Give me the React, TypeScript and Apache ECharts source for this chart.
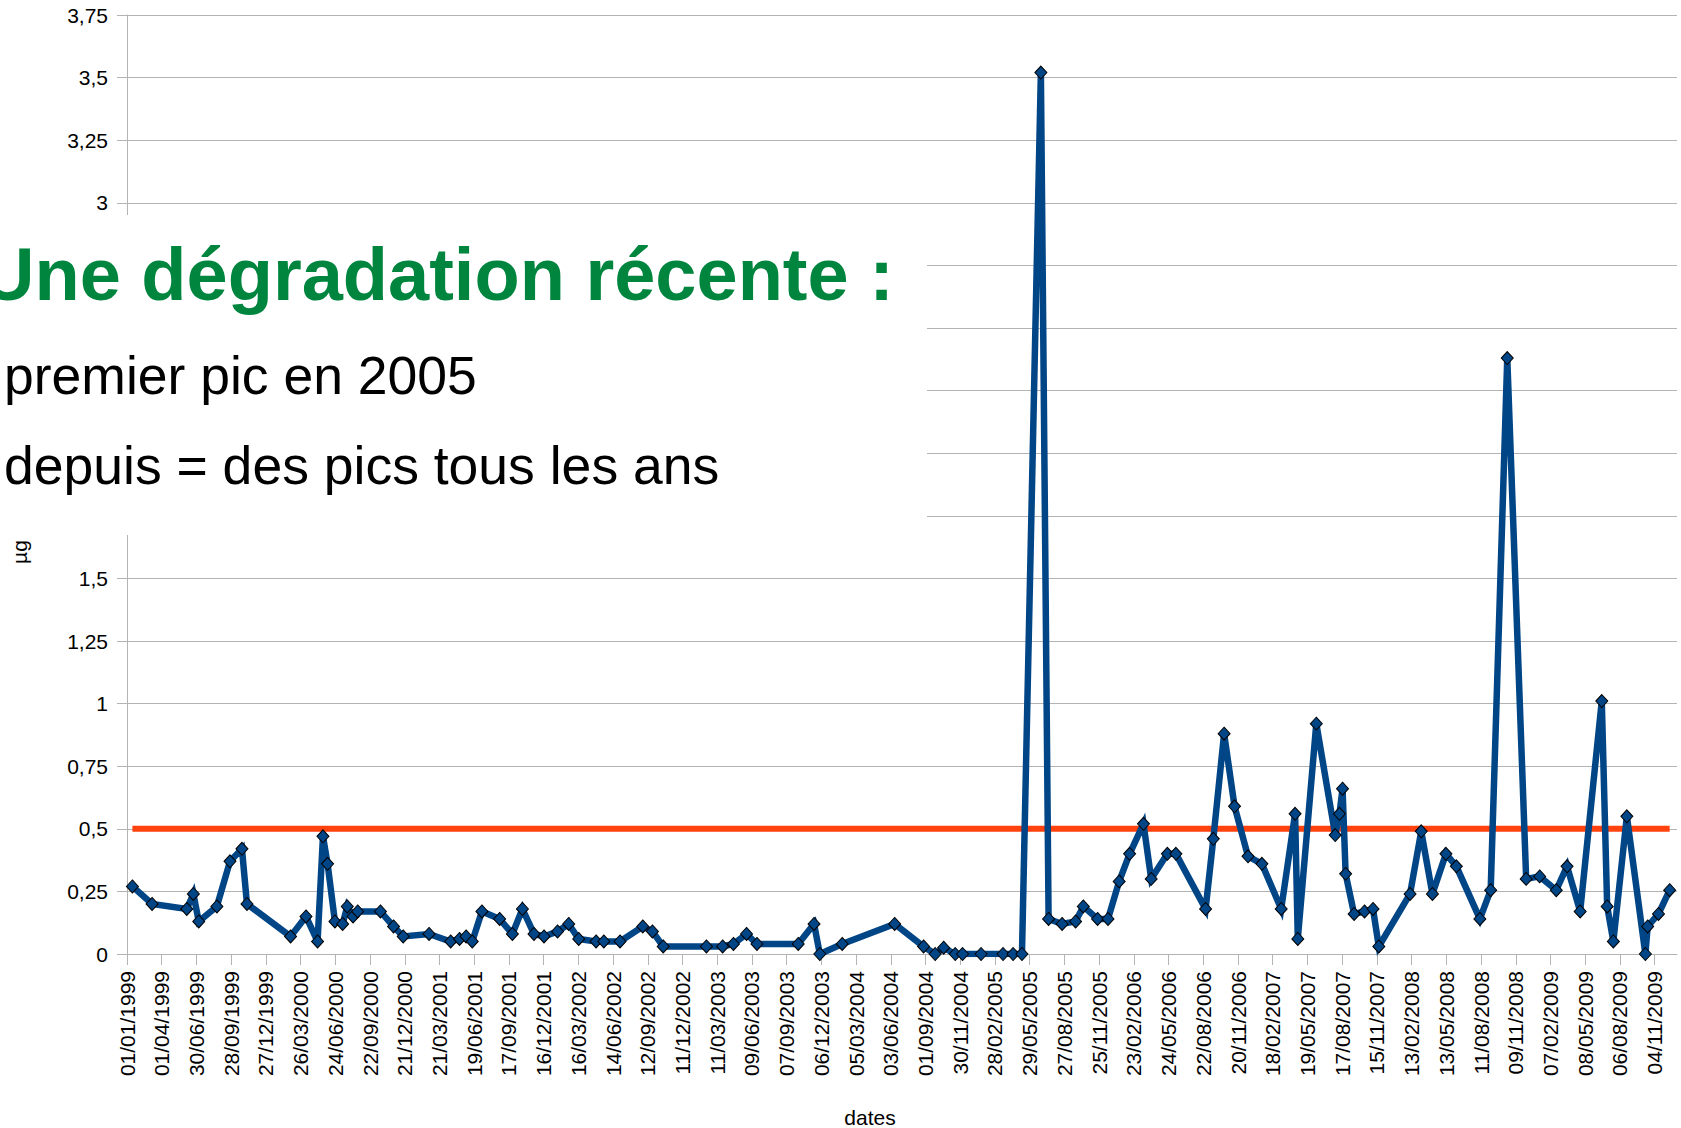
import { useEffect, useRef } from 'react';
import * as echarts from 'echarts';

// ---- Data ----
const sampleDates = [
  '1999-01-15', '1999-03-07', '1999-06-05', '1999-06-22', '1999-07-06', '1999-08-22', '1999-09-25', '1999-10-26', '1999-11-08',
  '2000-02-29', '2000-04-09', '2000-05-09', '2000-05-23', '2000-06-04', '2000-06-23', '2000-07-13', '2000-07-25', '2000-08-09', '2000-08-21', '2000-10-19', '2000-11-22', '2000-12-17',
  '2001-02-22', '2001-04-19', '2001-05-12', '2001-05-29', '2001-06-14', '2001-07-09', '2001-08-24', '2001-09-26', '2001-10-22', '2001-11-21', '2001-12-17',
  '2002-01-21', '2002-02-19', '2002-03-17', '2002-05-01', '2002-05-21', '2002-07-02', '2002-08-30', '2002-09-24', '2002-10-22',
  '2003-02-11', '2003-03-25', '2003-04-22', '2003-05-26', '2003-06-22', '2003-10-07', '2003-11-17', '2003-12-02',
  '2004-01-29', '2004-06-13', '2004-08-27', '2004-09-26', '2004-10-18', '2004-11-17', '2004-12-06',
  '2005-01-23', '2005-03-21', '2005-04-16', '2005-05-09', '2005-06-27', '2005-07-17', '2005-08-21', '2005-09-25', '2005-10-15', '2005-11-21', '2005-12-18',
  '2006-01-16', '2006-02-12', '2006-03-20', '2006-04-09', '2006-05-21', '2006-06-12', '2006-08-28', '2006-09-17', '2006-10-15', '2006-11-11', '2006-12-16',
  '2007-01-21', '2007-03-12', '2007-04-17', '2007-04-24', '2007-06-11', '2007-07-30', '2007-08-10', '2007-08-18', '2007-08-26', '2007-09-17', '2007-10-14', '2007-11-05', '2007-11-20',
  '2008-02-09', '2008-03-09', '2008-04-07', '2008-05-12', '2008-06-08', '2008-08-08', '2008-09-05', '2008-10-18', '2008-12-06',
  '2009-01-10', '2009-02-22', '2009-03-22', '2009-04-25', '2009-06-20', '2009-07-04', '2009-07-20', '2009-08-24', '2009-10-11', '2009-10-17', '2009-11-14', '2009-12-13',
];

const concentrations = [
  0.27, 0.2, 0.18, 0.24, 0.13, 0.19, 0.37, 0.42, 0.2,
  0.07, 0.15, 0.05, 0.47, 0.36, 0.13, 0.12, 0.19, 0.15, 0.17, 0.17, 0.11, 0.07,
  0.08, 0.05, 0.06, 0.07, 0.05, 0.17, 0.14, 0.08, 0.18, 0.08, 0.07,
  0.09, 0.12, 0.06, 0.05, 0.05, 0.05, 0.11, 0.09, 0.03,
  0.03, 0.03, 0.04, 0.08, 0.04, 0.04, 0.12, 0.0,
  0.04, 0.12, 0.03, 0.0, 0.025, 0.0, 0.0,
  0.0, 0.0, 0.0, 0.0, 3.52, 0.14, 0.12, 0.13, 0.19, 0.14, 0.14,
  0.29, 0.4, 0.52, 0.3, 0.4, 0.4, 0.18, 0.46, 0.88, 0.59, 0.39,
  0.36, 0.18, 0.56, 0.06, 0.92, 0.475, 0.56, 0.66, 0.32, 0.16, 0.17, 0.18, 0.03,
  0.24, 0.49, 0.24, 0.4, 0.35, 0.14, 0.255, 2.38, 0.3,
  0.31, 0.255, 0.35, 0.17, 1.01, 0.19, 0.05, 0.55, 0.0, 0.11, 0.16, 0.255,
];

const thresholdValue = 0.5;
const axisStartDate = '1999-01-01';
const axisEndDate = '2010-01-01';
const tickStepDays = 90;
const yMin = 0;
const yMax = 3.75;
const yStep = 0.25;
// y tick labels hidden by the text box in the reference
const hiddenYLabels = [1.75, 2, 2.25, 2.5, 2.75];

const titleLines = ['Une dégradation récente :', 'premier pic en 2005', 'depuis = des pics tous les ans'];
const yAxisTitle = 'µg';
const xAxisTitle = 'dates';

// ---- helpers ----
const DAY_MS = 86400000;
const toUTC = (s: string) => {
  const [y, m, d] = s.split('-').map(Number);
  return Date.UTC(y, m - 1, d);
};
const originMs = toUTC(axisStartDate);
const dayOf = (s: string) => Math.round((toUTC(s) - originMs) / DAY_MS);
const pad = (n: number) => (n < 10 ? '0' + n : '' + n);
const dayLabel = (v: number) => {
  if (Math.round(v) % tickStepDays !== 0) return '';
  const dt = new Date(originMs + Math.round(v) * DAY_MS);
  return pad(dt.getUTCDate()) + '/' + pad(dt.getUTCMonth() + 1) + '/' + dt.getUTCFullYear();
};
const valueLabel = (v: number) => {
  if (hiddenYLabels.some((h) => Math.abs(h - v) < 1e-9)) return '';
  return String(v).replace('.', ',');
};

const FONT = 'Liberation Sans, Arial, sans-serif';

export default function App() {
  const ref = useRef<HTMLDivElement>(null);

  useEffect(() => {
    if (!ref.current) return;
    const chart = echarts.init(ref.current, null, { renderer: 'svg' });

    const points = sampleDates.map((d, i) => [dayOf(d), concentrations[i]]);
    const thresholdPoints = [
      [dayOf(sampleDates[0]), thresholdValue],
      [dayOf(sampleDates[sampleDates.length - 1]), thresholdValue],
    ];

    chart.setOption({
      animation: false,
      backgroundColor: '#ffffff',
      grid: { left: 127, right: 4, top: 15, bottom: 174, containLabel: false, outerBoundsMode: 'none' },
      xAxis: {
        type: 'value',
        min: 0,
        max: dayOf(axisEndDate),
        interval: tickStepDays,
        axisLine: { show: true, onZero: false, lineStyle: { color: '#b3b3b3', width: 1 } },
        axisTick: { show: true, length: 11, lineStyle: { color: '#b3b3b3' } },
        splitLine: { show: false },
        axisLabel: {
          rotate: 90,
          margin: 17,
          fontSize: 21,
          fontFamily: FONT,
          color: '#000',
          showMaxLabel: false,
          formatter: (v: number) => dayLabel(v),
        },
      },
      yAxis: {
        type: 'value',
        min: yMin,
        max: yMax,
        interval: yStep,
        axisLine: { show: true, lineStyle: { color: '#b3b3b3', width: 1 } },
        axisTick: { show: true, length: 10, lineStyle: { color: '#b3b3b3' } },
        splitLine: { show: true, lineStyle: { color: '#b3b3b3', width: 1 } },
        axisLabel: {
          margin: 19,
          fontSize: 21,
          fontFamily: FONT,
          color: '#000',
          formatter: (v: number) => valueLabel(v),
        },
      },
      series: [
        {
          type: 'line',
          data: thresholdPoints,
          symbol: 'none',
          lineStyle: { color: '#ff420e', width: 6 },
          z: 2,
          silent: true,
        },
        {
          type: 'line',
          data: points,
          symbol: 'diamond',
          symbolSize: [12, 13],
          lineStyle: { color: '#004586', width: 6.5, join: 'miter' },
          itemStyle: { color: '#004586', borderColor: '#000', borderWidth: 1 },
          z: 3,
          silent: true,
        },
      ],
      graphic: [
        {
          type: 'rect',
          shape: { x: 0, y: 215, width: 927, height: 320 },
          style: { fill: '#ffffff' },
          z: 100,
          silent: true,
        },
        {
          type: 'text',
          x: -19,
          y: 274,
          z: 101,
          style: {
            text: titleLines[0],
            fontSize: 74,
            fontWeight: 'bold',
            fontFamily: FONT,
            fill: '#00853f',
            align: 'left',
            verticalAlign: 'middle',
          },
        },
        {
          type: 'text',
          x: 4,
          y: 375.5,
          z: 101,
          style: {
            text: titleLines[1],
            fontSize: 53.5,
            fontFamily: FONT,
            fill: '#000',
            align: 'left',
            verticalAlign: 'middle',
          },
        },
        {
          type: 'text',
          x: 4,
          y: 465.5,
          z: 101,
          style: {
            text: titleLines[2],
            fontSize: 53.5,
            fontFamily: FONT,
            fill: '#000',
            align: 'left',
            verticalAlign: 'middle',
          },
        },
        {
          type: 'text',
          x: 19,
          y: 552,
          rotation: Math.PI / 2,
          z: 101,
          style: {
            text: yAxisTitle,
            fontSize: 21,
            fontFamily: FONT,
            fill: '#000',
            align: 'center',
            verticalAlign: 'middle',
          },
        },
        {
          type: 'text',
          x: 870,
          y: 1117,
          z: 101,
          style: {
            text: xAxisTitle,
            fontSize: 21,
            fontFamily: FONT,
            fill: '#000',
            align: 'center',
            verticalAlign: 'middle',
          },
        },
      ],
    });

    return () => chart.dispose();
  }, []);

  return (
    <div
      ref={ref}
      style={{ position: 'absolute', left: 0, top: 0, width: 1681, height: 1128, background: '#fff' }}
    />
  );
}
